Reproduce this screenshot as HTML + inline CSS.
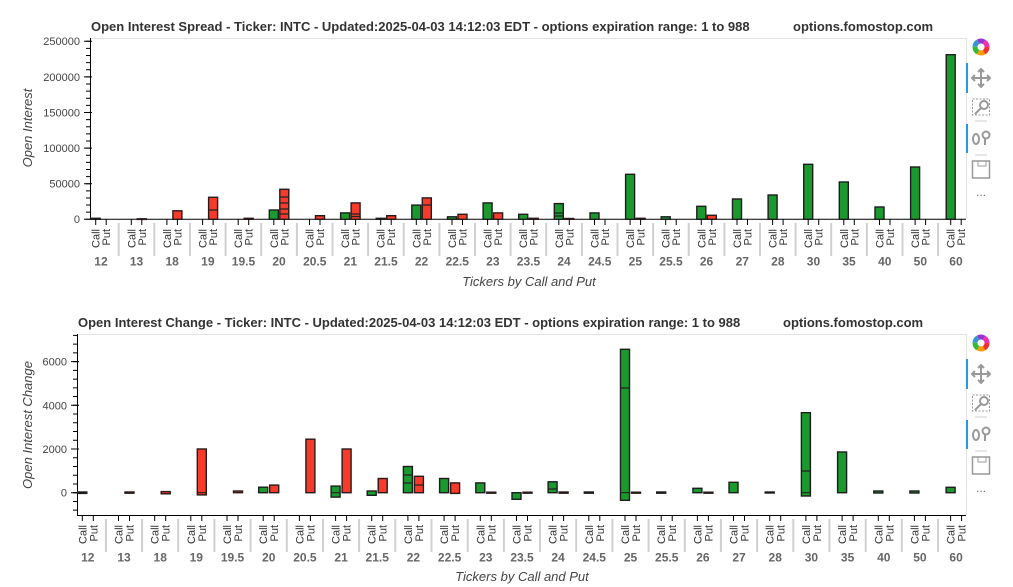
<!DOCTYPE html>
<html><head><meta charset="utf-8"><style>
body{margin:0;background:#fff;}
svg{display:block;font-family:"Liberation Sans",Arial,sans-serif;}
.tk{stroke:#000;stroke-width:1;fill:none}
.sep{stroke:#d0d0d0;stroke-width:2}
.cp{font-size:11px;fill:#333;text-anchor:end}
.gl{font-size:12px;font-weight:bold;fill:#666;text-anchor:middle}
.yl{font-size:11px;fill:#444;text-anchor:end}
.ti{font-size:13px;font-weight:bold;fill:#333}
.at{font-size:13px;font-style:italic;fill:#444;text-anchor:middle}
.g rect{fill:#1a9a2e;stroke:#1d1d1d;stroke-width:1.4}
.r rect{fill:#f63b2b;stroke:#2a1a1a;stroke-width:1.4}
.il{stroke:#222;stroke-width:1.2}
.ic{fill:none;stroke:#999;stroke-width:2}
</style></head><body>
<svg width="1013" height="587" viewBox="0 0 1013 587">
<!-- ===== TOP CHART ===== -->
<text class="ti" x="91" y="31">Open Interest Spread - Ticker: INTC - Updated:2025-04-03 14:12:03 EDT - options expiration range: 1 to 988</text>
<text class="ti" x="793" y="31">options.fomostop.com</text>
<path d="M90 38.5H966.5V219" stroke="#e4e4e4" fill="none"/>
<path class="tk" d="M90.5 38V219.3H966"/>
<path d="M88 219.8V38" stroke="#000" stroke-width="4" stroke-dasharray="1 6.12"/>
<path class="tk" d="M84 219.3h8M84 183.7h8M84 148.1h8M84 112.5h8M84 76.9h8M84 41.3h8"/>
<text class="yl" x="80" y="223">0</text>
<text class="yl" x="80" y="187.5">50000</text>
<text class="yl" x="80" y="152">100000</text>
<text class="yl" x="80" y="116.5">150000</text>
<text class="yl" x="80" y="81">200000</text>
<text class="yl" x="80" y="45">250000</text>
<text class="at" transform="translate(32,128) rotate(-90)">Open Interest</text>
<text class="at" x="529" y="286">Tickers by Call and Put</text>

<g class="r">
<rect x="137.3" y="218.8" width="9" height="0.6"/>
<rect x="172.9" y="210.8" width="9" height="8.5"/>
<rect x="208.6" y="197.3" width="9" height="22"/>
<rect x="244.2" y="218.3" width="9" height="1"/>
<rect x="279.8" y="189.3" width="9" height="30"/>
<rect x="315.5" y="215.7" width="9" height="3.6"/>
<rect x="351.1" y="202.9" width="9" height="16.4"/>
<rect x="386.7" y="215.7" width="9" height="3.6"/>
<rect x="422.3" y="197.9" width="9" height="21.4"/>
<rect x="458" y="214.3" width="9" height="5"/>
<rect x="493.6" y="212.9" width="9" height="6.4"/>
<rect x="529.2" y="218.3" width="9" height="1"/>
<rect x="564.8" y="218.5" width="9" height="0.8"/>
<rect x="636.1" y="218.3" width="9" height="1"/>
<rect x="707.3" y="215.3" width="9" height="4"/>
</g>
<g class="g">
<rect x="91.2" y="218.3" width="9" height="1"/>
<rect x="269.3" y="210" width="9" height="9.3"/>
<rect x="340.6" y="212.9" width="9" height="6.4"/>
<rect x="376.2" y="218.3" width="9" height="1"/>
<rect x="411.8" y="205.1" width="9" height="14.2"/>
<rect x="447.5" y="216.8" width="9" height="2.5"/>
<rect x="483.1" y="202.9" width="9" height="16.4"/>
<rect x="518.7" y="214.3" width="9" height="5"/>
<rect x="554.3" y="203.6" width="9" height="15.7"/>
<rect x="590" y="212.9" width="9" height="6.4"/>
<rect x="625.6" y="174.3" width="9" height="45"/>
<rect x="661.2" y="216.8" width="9" height="2.5"/>
<rect x="696.8" y="206.3" width="9" height="13"/>
<rect x="732.5" y="199" width="9" height="20.3"/>
<rect x="768.1" y="195" width="9" height="24.3"/>
<rect x="803.7" y="164.3" width="9" height="55"/>
<rect x="839.3" y="182" width="9" height="37.3"/>
<rect x="875" y="207" width="9" height="12.3"/>
<rect x="910.6" y="167" width="9" height="52.3"/>
<rect x="946.2" y="54.7" width="9" height="164.6"/>
</g>
<path class="il" d="M208.6 210h9M279.8 197h9M279.8 203h9M279.8 209h9M279.8 214h9M351.1 214h9M351.1 216.5h9M422.3 205h9M554.3 213h9M554.3 216h9"/>

<g transform="translate(95.7,0)"><path class="tk" d="M0 219v6M10.5 219v6"/><text class="cp" transform="translate(4,229) rotate(-90)">Call</text><text class="cp" transform="translate(14.5,229) rotate(-90)">Put</text><text class="gl" x="5.25" y="265.5">12</text></g>
<g transform="translate(131.3,0)"><path class="sep" d="M-12.6 223v33"/><path class="tk" d="M0 219v6M10.5 219v6"/><text class="cp" transform="translate(4,229) rotate(-90)">Call</text><text class="cp" transform="translate(14.5,229) rotate(-90)">Put</text><text class="gl" x="5.25" y="265.5">13</text></g>
<g transform="translate(166.9,0)"><path class="sep" d="M-12.6 223v33"/><path class="tk" d="M0 219v6M10.5 219v6"/><text class="cp" transform="translate(4,229) rotate(-90)">Call</text><text class="cp" transform="translate(14.5,229) rotate(-90)">Put</text><text class="gl" x="5.25" y="265.5">18</text></g>
<g transform="translate(202.6,0)"><path class="sep" d="M-12.6 223v33"/><path class="tk" d="M0 219v6M10.5 219v6"/><text class="cp" transform="translate(4,229) rotate(-90)">Call</text><text class="cp" transform="translate(14.5,229) rotate(-90)">Put</text><text class="gl" x="5.25" y="265.5">19</text></g>
<g transform="translate(238.2,0)"><path class="sep" d="M-12.6 223v33"/><path class="tk" d="M0 219v6M10.5 219v6"/><text class="cp" transform="translate(4,229) rotate(-90)">Call</text><text class="cp" transform="translate(14.5,229) rotate(-90)">Put</text><text class="gl" x="5.25" y="265.5">19.5</text></g>
<g transform="translate(273.8,0)"><path class="sep" d="M-12.6 223v33"/><path class="tk" d="M0 219v6M10.5 219v6"/><text class="cp" transform="translate(4,229) rotate(-90)">Call</text><text class="cp" transform="translate(14.5,229) rotate(-90)">Put</text><text class="gl" x="5.25" y="265.5">20</text></g>
<g transform="translate(309.5,0)"><path class="sep" d="M-12.6 223v33"/><path class="tk" d="M0 219v6M10.5 219v6"/><text class="cp" transform="translate(4,229) rotate(-90)">Call</text><text class="cp" transform="translate(14.5,229) rotate(-90)">Put</text><text class="gl" x="5.25" y="265.5">20.5</text></g>
<g transform="translate(345.1,0)"><path class="sep" d="M-12.6 223v33"/><path class="tk" d="M0 219v6M10.5 219v6"/><text class="cp" transform="translate(4,229) rotate(-90)">Call</text><text class="cp" transform="translate(14.5,229) rotate(-90)">Put</text><text class="gl" x="5.25" y="265.5">21</text></g>
<g transform="translate(380.7,0)"><path class="sep" d="M-12.6 223v33"/><path class="tk" d="M0 219v6M10.5 219v6"/><text class="cp" transform="translate(4,229) rotate(-90)">Call</text><text class="cp" transform="translate(14.5,229) rotate(-90)">Put</text><text class="gl" x="5.25" y="265.5">21.5</text></g>
<g transform="translate(416.3,0)"><path class="sep" d="M-12.6 223v33"/><path class="tk" d="M0 219v6M10.5 219v6"/><text class="cp" transform="translate(4,229) rotate(-90)">Call</text><text class="cp" transform="translate(14.5,229) rotate(-90)">Put</text><text class="gl" x="5.25" y="265.5">22</text></g>
<g transform="translate(452,0)"><path class="sep" d="M-12.6 223v33"/><path class="tk" d="M0 219v6M10.5 219v6"/><text class="cp" transform="translate(4,229) rotate(-90)">Call</text><text class="cp" transform="translate(14.5,229) rotate(-90)">Put</text><text class="gl" x="5.25" y="265.5">22.5</text></g>
<g transform="translate(487.6,0)"><path class="sep" d="M-12.6 223v33"/><path class="tk" d="M0 219v6M10.5 219v6"/><text class="cp" transform="translate(4,229) rotate(-90)">Call</text><text class="cp" transform="translate(14.5,229) rotate(-90)">Put</text><text class="gl" x="5.25" y="265.5">23</text></g>
<g transform="translate(523.2,0)"><path class="sep" d="M-12.6 223v33"/><path class="tk" d="M0 219v6M10.5 219v6"/><text class="cp" transform="translate(4,229) rotate(-90)">Call</text><text class="cp" transform="translate(14.5,229) rotate(-90)">Put</text><text class="gl" x="5.25" y="265.5">23.5</text></g>
<g transform="translate(558.8,0)"><path class="sep" d="M-12.6 223v33"/><path class="tk" d="M0 219v6M10.5 219v6"/><text class="cp" transform="translate(4,229) rotate(-90)">Call</text><text class="cp" transform="translate(14.5,229) rotate(-90)">Put</text><text class="gl" x="5.25" y="265.5">24</text></g>
<g transform="translate(594.5,0)"><path class="sep" d="M-12.6 223v33"/><path class="tk" d="M0 219v6M10.5 219v6"/><text class="cp" transform="translate(4,229) rotate(-90)">Call</text><text class="cp" transform="translate(14.5,229) rotate(-90)">Put</text><text class="gl" x="5.25" y="265.5">24.5</text></g>
<g transform="translate(630.1,0)"><path class="sep" d="M-12.6 223v33"/><path class="tk" d="M0 219v6M10.5 219v6"/><text class="cp" transform="translate(4,229) rotate(-90)">Call</text><text class="cp" transform="translate(14.5,229) rotate(-90)">Put</text><text class="gl" x="5.25" y="265.5">25</text></g>
<g transform="translate(665.7,0)"><path class="sep" d="M-12.6 223v33"/><path class="tk" d="M0 219v6M10.5 219v6"/><text class="cp" transform="translate(4,229) rotate(-90)">Call</text><text class="cp" transform="translate(14.5,229) rotate(-90)">Put</text><text class="gl" x="5.25" y="265.5">25.5</text></g>
<g transform="translate(701.3,0)"><path class="sep" d="M-12.6 223v33"/><path class="tk" d="M0 219v6M10.5 219v6"/><text class="cp" transform="translate(4,229) rotate(-90)">Call</text><text class="cp" transform="translate(14.5,229) rotate(-90)">Put</text><text class="gl" x="5.25" y="265.5">26</text></g>
<g transform="translate(737,0)"><path class="sep" d="M-12.6 223v33"/><path class="tk" d="M0 219v6M10.5 219v6"/><text class="cp" transform="translate(4,229) rotate(-90)">Call</text><text class="cp" transform="translate(14.5,229) rotate(-90)">Put</text><text class="gl" x="5.25" y="265.5">27</text></g>
<g transform="translate(772.6,0)"><path class="sep" d="M-12.6 223v33"/><path class="tk" d="M0 219v6M10.5 219v6"/><text class="cp" transform="translate(4,229) rotate(-90)">Call</text><text class="cp" transform="translate(14.5,229) rotate(-90)">Put</text><text class="gl" x="5.25" y="265.5">28</text></g>
<g transform="translate(808.2,0)"><path class="sep" d="M-12.6 223v33"/><path class="tk" d="M0 219v6M10.5 219v6"/><text class="cp" transform="translate(4,229) rotate(-90)">Call</text><text class="cp" transform="translate(14.5,229) rotate(-90)">Put</text><text class="gl" x="5.25" y="265.5">30</text></g>
<g transform="translate(843.8,0)"><path class="sep" d="M-12.6 223v33"/><path class="tk" d="M0 219v6M10.5 219v6"/><text class="cp" transform="translate(4,229) rotate(-90)">Call</text><text class="cp" transform="translate(14.5,229) rotate(-90)">Put</text><text class="gl" x="5.25" y="265.5">35</text></g>
<g transform="translate(879.5,0)"><path class="sep" d="M-12.6 223v33"/><path class="tk" d="M0 219v6M10.5 219v6"/><text class="cp" transform="translate(4,229) rotate(-90)">Call</text><text class="cp" transform="translate(14.5,229) rotate(-90)">Put</text><text class="gl" x="5.25" y="265.5">40</text></g>
<g transform="translate(915.1,0)"><path class="sep" d="M-12.6 223v33"/><path class="tk" d="M0 219v6M10.5 219v6"/><text class="cp" transform="translate(4,229) rotate(-90)">Call</text><text class="cp" transform="translate(14.5,229) rotate(-90)">Put</text><text class="gl" x="5.25" y="265.5">50</text></g>
<g transform="translate(950.7,0)"><path class="sep" d="M-12.6 223v33"/><path class="tk" d="M0 219v6M10.5 219v6"/><text class="cp" transform="translate(4,229) rotate(-90)">Call</text><text class="cp" transform="translate(14.5,229) rotate(-90)">Put</text><text class="gl" x="5.25" y="265.5">60</text></g>

<!-- ===== BOTTOM CHART ===== -->
<text class="ti" x="78" y="327">Open Interest Change - Ticker: INTC - Updated:2025-04-03 14:12:03 EDT - options expiration range: 1 to 988</text>
<text class="ti" x="783" y="327">options.fomostop.com</text>
<path d="M77 334.5H966.5V515" stroke="#e4e4e4" fill="none"/>
<path class="tk" d="M77.5 334V515.5H966"/>
<path d="M75 493.2V334" stroke="#000" stroke-width="4" stroke-dasharray="1 7.74"/>
<path d="M75 492.2V515" stroke="#000" stroke-width="4" stroke-dasharray="1 7.74"/>
<path class="tk" d="M71 492.7h8M71 449h8M71 405.3h8M71 361.6h8"/>
<text class="yl" x="67" y="496.7">0</text>
<text class="yl" x="67" y="453">2000</text>
<text class="yl" x="67" y="409.3">4000</text>
<text class="yl" x="67" y="365.6">6000</text>
<text class="at" transform="translate(32,425) rotate(-90)">Open Interest Change</text>
<text class="at" x="522" y="581">Tickers by Call and Put</text>

<g class="r">
<rect x="125" y="492" width="9" height="1.2"/>
<rect x="161.2" y="491.6" width="9" height="2.2"/>
<rect x="197.3" y="449" width="9" height="45.9"/>
<rect x="233.5" y="491" width="9" height="1.7"/>
<rect x="269.7" y="485.1" width="9" height="7.6"/>
<rect x="305.9" y="439.2" width="9" height="53.5"/>
<rect x="342.1" y="449" width="9" height="43.7"/>
<rect x="378.2" y="478.5" width="9" height="14.2"/>
<rect x="414.4" y="476.3" width="9" height="16.4"/>
<rect x="450.6" y="482.9" width="9" height="10.5"/>
<rect x="486.8" y="492.2" width="9" height="1"/>
<rect x="523" y="492.2" width="9" height="1"/>
<rect x="559.1" y="492" width="9" height="1.2"/>
<rect x="631.5" y="492.2" width="9" height="1"/>
<rect x="703.9" y="492.2" width="9" height="1"/>
</g>
<g class="g">
<rect x="77.8" y="492" width="9" height="1.4"/>
<rect x="258.7" y="487.2" width="9" height="5.5"/>
<rect x="331.1" y="486.1" width="9" height="11"/>
<rect x="367.2" y="491" width="9" height="4.3"/>
<rect x="403.4" y="466.5" width="9" height="26.2"/>
<rect x="439.6" y="478.5" width="9" height="14.2"/>
<rect x="475.8" y="482.9" width="9" height="9.8"/>
<rect x="512" y="492.7" width="9" height="6.6"/>
<rect x="548.1" y="481.8" width="9" height="10.9"/>
<rect x="584.3" y="492" width="9" height="1.2"/>
<rect x="620.5" y="349.3" width="9" height="151"/>
<rect x="656.7" y="492" width="9" height="1.2"/>
<rect x="692.9" y="488.3" width="9" height="4.4"/>
<rect x="729" y="482.3" width="9" height="10.4"/>
<rect x="765.2" y="492" width="9" height="1"/>
<rect x="801.4" y="412.7" width="9" height="83.3"/>
<rect x="837.6" y="452" width="9" height="40.7"/>
<rect x="873.8" y="491" width="9" height="2"/>
<rect x="909.9" y="491" width="9" height="2"/>
<rect x="946.1" y="487.3" width="9" height="5.4"/>
</g>
<path class="il" d="M197.3 492.7h9M331.1 492.7h9M403.4 475h9M403.4 483h9M414.4 485h9M620.5 388h9M620.5 492.7h9M801.4 471h9M801.4 492.7h9M548.1 489h9"/>

<g transform="translate(82.3,0)"><path class="tk" d="M0 515v6M11 515v6"/><text class="cp" transform="translate(4,525) rotate(-90)">Call</text><text class="cp" transform="translate(15,525) rotate(-90)">Put</text><text class="gl" x="5.5" y="561.5">12</text></g>
<g transform="translate(118.5,0)"><path class="sep" d="M-12.6 519v33"/><path class="tk" d="M0 515v6M11 515v6"/><text class="cp" transform="translate(4,525) rotate(-90)">Call</text><text class="cp" transform="translate(15,525) rotate(-90)">Put</text><text class="gl" x="5.5" y="561.5">13</text></g>
<g transform="translate(154.7,0)"><path class="sep" d="M-12.6 519v33"/><path class="tk" d="M0 515v6M11 515v6"/><text class="cp" transform="translate(4,525) rotate(-90)">Call</text><text class="cp" transform="translate(15,525) rotate(-90)">Put</text><text class="gl" x="5.5" y="561.5">18</text></g>
<g transform="translate(190.8,0)"><path class="sep" d="M-12.6 519v33"/><path class="tk" d="M0 515v6M11 515v6"/><text class="cp" transform="translate(4,525) rotate(-90)">Call</text><text class="cp" transform="translate(15,525) rotate(-90)">Put</text><text class="gl" x="5.5" y="561.5">19</text></g>
<g transform="translate(227,0)"><path class="sep" d="M-12.6 519v33"/><path class="tk" d="M0 515v6M11 515v6"/><text class="cp" transform="translate(4,525) rotate(-90)">Call</text><text class="cp" transform="translate(15,525) rotate(-90)">Put</text><text class="gl" x="5.5" y="561.5">19.5</text></g>
<g transform="translate(263.2,0)"><path class="sep" d="M-12.6 519v33"/><path class="tk" d="M0 515v6M11 515v6"/><text class="cp" transform="translate(4,525) rotate(-90)">Call</text><text class="cp" transform="translate(15,525) rotate(-90)">Put</text><text class="gl" x="5.5" y="561.5">20</text></g>
<g transform="translate(299.4,0)"><path class="sep" d="M-12.6 519v33"/><path class="tk" d="M0 515v6M11 515v6"/><text class="cp" transform="translate(4,525) rotate(-90)">Call</text><text class="cp" transform="translate(15,525) rotate(-90)">Put</text><text class="gl" x="5.5" y="561.5">20.5</text></g>
<g transform="translate(335.6,0)"><path class="sep" d="M-12.6 519v33"/><path class="tk" d="M0 515v6M11 515v6"/><text class="cp" transform="translate(4,525) rotate(-90)">Call</text><text class="cp" transform="translate(15,525) rotate(-90)">Put</text><text class="gl" x="5.5" y="561.5">21</text></g>
<g transform="translate(371.7,0)"><path class="sep" d="M-12.6 519v33"/><path class="tk" d="M0 515v6M11 515v6"/><text class="cp" transform="translate(4,525) rotate(-90)">Call</text><text class="cp" transform="translate(15,525) rotate(-90)">Put</text><text class="gl" x="5.5" y="561.5">21.5</text></g>
<g transform="translate(407.9,0)"><path class="sep" d="M-12.6 519v33"/><path class="tk" d="M0 515v6M11 515v6"/><text class="cp" transform="translate(4,525) rotate(-90)">Call</text><text class="cp" transform="translate(15,525) rotate(-90)">Put</text><text class="gl" x="5.5" y="561.5">22</text></g>
<g transform="translate(444.1,0)"><path class="sep" d="M-12.6 519v33"/><path class="tk" d="M0 515v6M11 515v6"/><text class="cp" transform="translate(4,525) rotate(-90)">Call</text><text class="cp" transform="translate(15,525) rotate(-90)">Put</text><text class="gl" x="5.5" y="561.5">22.5</text></g>
<g transform="translate(480.3,0)"><path class="sep" d="M-12.6 519v33"/><path class="tk" d="M0 515v6M11 515v6"/><text class="cp" transform="translate(4,525) rotate(-90)">Call</text><text class="cp" transform="translate(15,525) rotate(-90)">Put</text><text class="gl" x="5.5" y="561.5">23</text></g>
<g transform="translate(516.5,0)"><path class="sep" d="M-12.6 519v33"/><path class="tk" d="M0 515v6M11 515v6"/><text class="cp" transform="translate(4,525) rotate(-90)">Call</text><text class="cp" transform="translate(15,525) rotate(-90)">Put</text><text class="gl" x="5.5" y="561.5">23.5</text></g>
<g transform="translate(552.6,0)"><path class="sep" d="M-12.6 519v33"/><path class="tk" d="M0 515v6M11 515v6"/><text class="cp" transform="translate(4,525) rotate(-90)">Call</text><text class="cp" transform="translate(15,525) rotate(-90)">Put</text><text class="gl" x="5.5" y="561.5">24</text></g>
<g transform="translate(588.8,0)"><path class="sep" d="M-12.6 519v33"/><path class="tk" d="M0 515v6M11 515v6"/><text class="cp" transform="translate(4,525) rotate(-90)">Call</text><text class="cp" transform="translate(15,525) rotate(-90)">Put</text><text class="gl" x="5.5" y="561.5">24.5</text></g>
<g transform="translate(625,0)"><path class="sep" d="M-12.6 519v33"/><path class="tk" d="M0 515v6M11 515v6"/><text class="cp" transform="translate(4,525) rotate(-90)">Call</text><text class="cp" transform="translate(15,525) rotate(-90)">Put</text><text class="gl" x="5.5" y="561.5">25</text></g>
<g transform="translate(661.2,0)"><path class="sep" d="M-12.6 519v33"/><path class="tk" d="M0 515v6M11 515v6"/><text class="cp" transform="translate(4,525) rotate(-90)">Call</text><text class="cp" transform="translate(15,525) rotate(-90)">Put</text><text class="gl" x="5.5" y="561.5">25.5</text></g>
<g transform="translate(697.4,0)"><path class="sep" d="M-12.6 519v33"/><path class="tk" d="M0 515v6M11 515v6"/><text class="cp" transform="translate(4,525) rotate(-90)">Call</text><text class="cp" transform="translate(15,525) rotate(-90)">Put</text><text class="gl" x="5.5" y="561.5">26</text></g>
<g transform="translate(733.5,0)"><path class="sep" d="M-12.6 519v33"/><path class="tk" d="M0 515v6M11 515v6"/><text class="cp" transform="translate(4,525) rotate(-90)">Call</text><text class="cp" transform="translate(15,525) rotate(-90)">Put</text><text class="gl" x="5.5" y="561.5">27</text></g>
<g transform="translate(769.7,0)"><path class="sep" d="M-12.6 519v33"/><path class="tk" d="M0 515v6M11 515v6"/><text class="cp" transform="translate(4,525) rotate(-90)">Call</text><text class="cp" transform="translate(15,525) rotate(-90)">Put</text><text class="gl" x="5.5" y="561.5">28</text></g>
<g transform="translate(805.9,0)"><path class="sep" d="M-12.6 519v33"/><path class="tk" d="M0 515v6M11 515v6"/><text class="cp" transform="translate(4,525) rotate(-90)">Call</text><text class="cp" transform="translate(15,525) rotate(-90)">Put</text><text class="gl" x="5.5" y="561.5">30</text></g>
<g transform="translate(842.1,0)"><path class="sep" d="M-12.6 519v33"/><path class="tk" d="M0 515v6M11 515v6"/><text class="cp" transform="translate(4,525) rotate(-90)">Call</text><text class="cp" transform="translate(15,525) rotate(-90)">Put</text><text class="gl" x="5.5" y="561.5">35</text></g>
<g transform="translate(878.3,0)"><path class="sep" d="M-12.6 519v33"/><path class="tk" d="M0 515v6M11 515v6"/><text class="cp" transform="translate(4,525) rotate(-90)">Call</text><text class="cp" transform="translate(15,525) rotate(-90)">Put</text><text class="gl" x="5.5" y="561.5">40</text></g>
<g transform="translate(914.4,0)"><path class="sep" d="M-12.6 519v33"/><path class="tk" d="M0 515v6M11 515v6"/><text class="cp" transform="translate(4,525) rotate(-90)">Call</text><text class="cp" transform="translate(15,525) rotate(-90)">Put</text><text class="gl" x="5.5" y="561.5">50</text></g>
<g transform="translate(950.6,0)"><path class="sep" d="M-12.6 519v33"/><path class="tk" d="M0 515v6M11 515v6"/><text class="cp" transform="translate(4,525) rotate(-90)">Call</text><text class="cp" transform="translate(15,525) rotate(-90)">Put</text><text class="gl" x="5.5" y="561.5">60</text></g>

<!-- ===== TOOLBARS ===== -->
<g id="tb1" transform="translate(0,0)">
<g stroke-width="5" fill="none">
<circle cx="981" cy="47" r="6" stroke="#e33" stroke-dasharray="6.3 31.4"/>
<circle cx="981" cy="47" r="6" stroke="#f90" stroke-dasharray="0 6.3 6.3 31.4"/>
<circle cx="981" cy="47" r="6" stroke="#3b3" stroke-dasharray="0 12.6 6.3 31.4"/>
<circle cx="981" cy="47" r="6" stroke="#39c" stroke-dasharray="0 18.9 6.3 31.4"/>
<circle cx="981" cy="47" r="6" stroke="#93c" stroke-dasharray="0 25.2 6.3 31.4"/>
<circle cx="981" cy="47" r="6" stroke="#e3a" stroke-dasharray="0 31.5 6.3 31.4"/>
</g>
<rect x="966" y="63" width="2" height="30" fill="#2a9ae0"/>
<rect x="966" y="124" width="2" height="29" fill="#2a9ae0"/>
<path class="ic" d="M981 70v16M973 78h16M978 72l3-3 3 3M978 84l3 3 3-3M975 75l-3 3 3 3M987 75l3 3-3 3"/>
<rect x="972.5" y="99" width="17" height="16" fill="none" stroke="#999" stroke-dasharray="2 1.5"/>
<circle cx="984" cy="105" r="4" class="ic"/><path class="ic" d="M981 108l-6 6"/>
<path d="M975 121h12M975 155h12" stroke="#ccc"/>
<ellipse cx="976" cy="139" rx="3" ry="5" class="ic"/><circle cx="986" cy="135" r="3.5" class="ic"/><path class="ic" d="M985 139v6"/>
<rect x="972.5" y="161" width="17" height="17" fill="none" stroke="#999" stroke-width="1.5"/><rect x="978" y="161" width="8" height="5" fill="none" stroke="#999"/>
<text x="981" y="196" font-size="12" fill="#666" text-anchor="middle">...</text>
</g>
<use href="#tb1" transform="translate(0,296)"/>
</svg>
</body></html>
